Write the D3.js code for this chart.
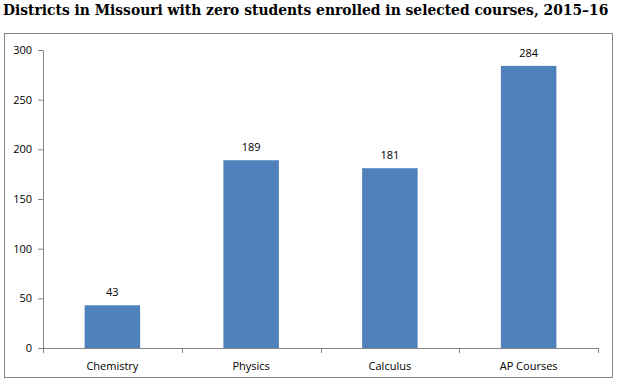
<!DOCTYPE html>
<html>
<head>
<meta charset="utf-8">
<script src="https://cdn.jsdelivr.net/npm/d3@7"></script>
<style>
  body { margin: 0; background: #fff; }
  svg { display: block; }
  .axis text { font-family: "Open Sans", "Liberation Sans", sans-serif; font-size: 11px; fill: #000; }
  .axis path, .axis line { stroke: #868686; }
</style>
</head>
<body>
<svg id="chart"></svg>
<script>
const categories = ['Chemistry', 'Physics', 'Calculus', 'AP Courses'];
const values = [43, 189, 181, 284];
const yTicks = [0, 50, 100, 150, 200, 250, 300];
const title = 'Districts in Missouri with zero students enrolled in selected courses, 2015\u201316';

const width = 622, height = 387;
const margin = {top: 50, left: 43, right: 24, bottom: 39};
const innerW = width - margin.left - margin.right;
const innerH = height - margin.top - margin.bottom;

const svg = d3.select('#chart')
  .attr('width', width)
  .attr('height', height);

// title
const titleText = svg.append('text')
  .attr('x', 3)
  .attr('y', 15)
  .style('font-family', '"DejaVu Serif", "Liberation Serif", serif')
  .style('font-weight', 'bold')
  .style('font-size', '15px')
  .style('fill', '#000')
  .text(title);
// fit title to the width seen in the reference
const tw = titleText.node().getComputedTextLength();
titleText.style('font-size', (15 * 606 / tw).toFixed(2) + 'px');

// chart border
svg.append('rect')
  .attr('x', 4.5)
  .attr('y', 33.5)
  .attr('width', 608)
  .attr('height', 344)
  .attr('fill', 'none')
  .attr('stroke', '#868686');

const chart = svg.append('g')
  .attr('transform', `translate(${margin.left},${margin.top})`);

const x = d3.scaleBand()
  .domain(categories)
  .range([0, innerW])
  .paddingInner(0.6)
  .paddingOuter(0.3);

const xOuter = d3.scaleBand()
  .domain(categories)
  .range([0, innerW]);

const y = d3.scaleLinear()
  .domain([0, 300])
  .range([innerH, 0]);

// bars
chart.selectAll('.bar')
  .data(values)
  .enter()
  .append('rect')
  .attr('class', 'bar')
  .attr('x', (d, i) => x(categories[i]))
  .attr('width', x.bandwidth())
  .attr('y', d => y(d))
  .attr('height', d => innerH - y(d))
  .attr('fill', '#4F81BD');

// value labels
chart.selectAll('.value')
  .data(values)
  .enter()
  .append('text')
  .attr('class', 'value')
  .attr('x', (d, i) => x(categories[i]) + x.bandwidth() / 2)
  .attr('y', d => y(d) - 9)
  .attr('text-anchor', 'middle')
  .style('font-family', '"Open Sans", "Liberation Sans", sans-serif')
  .style('font-size', '11px')
  .text(d => d);

// y axis
chart.append('g')
  .attr('class', 'axis y-axis')
  .call(d3.axisLeft(y).tickValues(yTicks).tickSize(5).tickSizeOuter(5).tickPadding(6))
  .call(g => g.select('.domain').attr('d', `M-5,${y(300) + 0.5}H0.5V${innerH + 0.5}`));

// x axis with tick marks at category boundaries
const xAxisG = chart.append('g')
  .attr('class', 'axis x-axis')
  .attr('transform', `translate(0,${innerH})`);

xAxisG.append('path')
  .attr('class', 'domain')
  .attr('fill', 'none')
  .attr('d', `M0.5,0.5H${innerW + 0.5}`);

const bounds = categories.map(c => xOuter(c)).concat([innerW]);
xAxisG.selectAll('.bound')
  .data(bounds)
  .enter()
  .append('line')
  .attr('class', 'bound')
  .attr('x1', d => Math.round(d) + 0.5)
  .attr('x2', d => Math.round(d) + 0.5)
  .attr('y1', 0)
  .attr('y2', 5);

xAxisG.selectAll('.cat')
  .data(categories)
  .enter()
  .append('text')
  .attr('class', 'cat')
  .attr('x', d => x(d) + x.bandwidth() / 2)
  .attr('y', 22)
  .attr('text-anchor', 'middle')
  .text(d => d);
</script>
</body>
</html>
